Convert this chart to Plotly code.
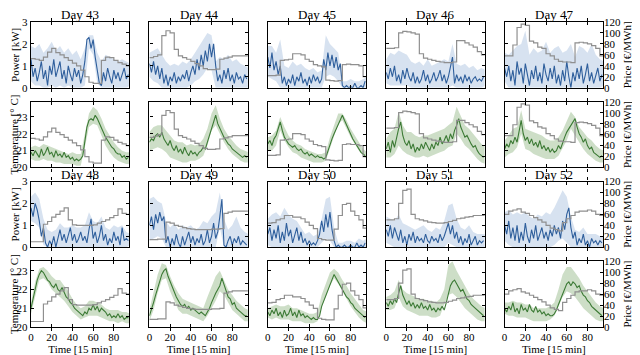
import plotly.graph_objects as go
from plotly.subplots import make_subplots

DAYS_TOP = [43, 44, 45, 46, 47]
DAYS_BOTTOM = [48, 49, 50, 51, 52]
T_MEAN = list(range(0, 96, 2))
T_BAND = list(range(0, 97, 4))
T_PRICE = list(range(0, 97, 4))
X_TICKS = [0, 20, 40, 60, 80]

# ---- Day 43 ----
PRICE_43 = [53, 52, 50, 56, 65, 72, 64, 60, 55, 50, 45, 40, 32, 20, 10, 8, 8, 50, 56, 55, 50, 46, 43, 40]
POW_43 = [1.3, 0.5, 0.9, 0.3, 0.7, 1.2, 0.4, 0.8, 0.1, 1.0, 0.6, 1.3, 0.5, 0.9, 1.2, 0.4, 0.8, 0.2, 1.0, 0.6, 0.3, 0.9, 0.5, 0.8,
          0.2, 0.6, 1.2, 2.2, 2.3, 1.8, 2.2, 1.4, 0.8, 0.2, 0.1, 0.7, 0.3, 0.9, 0.5, 0.2, 0.8, 0.4, 0.7, 0.3, 0.6, 0.9, 0.4, 0.6]
POW_HI_43 = [1.9, 1.8, 2.0, 1.6, 1.8, 2.1, 1.7, 1.9, 1.6, 1.8, 1.5, 1.7, 1.3, 1.8, 2.4, 2.4, 1.6, 1.2, 1.5, 1.4, 1.3, 1.2, 1.3, 1.2, 1.1]
POW_LO_43 = [0.3, 0.1, 0.1, 0, 0, 0.1, 0, 0.1, 0, 0.1, 0, 0, 0, 0.1, 1.8, 1.5, 0.2, 0, 0, 0, 0, 0, 0, 0, 0.1]
TMP_43 = [20.9, 20.7, 21.0, 20.8, 20.6, 21.1, 20.7, 20.9, 21.2, 20.8, 20.9, 20.6, 21.0, 20.7, 20.8, 20.6, 20.9, 20.6, 20.7, 20.5,
          20.6, 20.4, 20.5, 20.4, 20.5, 20.7, 21.6, 22.4, 22.8, 22.9, 22.8, 23.1, 22.9, 22.6, 22.3, 22.0, 21.8, 21.6, 21.4, 21.2,
          21.1, 20.9, 20.8, 20.8, 20.6, 20.7, 20.5, 20.6]
TMP_HI_43 = [21.2, 21.3, 21.2, 21.4, 21.3, 21.2, 21.1, 21.0, 20.9, 20.8, 20.9, 20.8, 20.8, 21.9, 23.2, 23.6, 23.4, 22.9, 22.3, 21.9, 21.5, 21.2, 21.0, 20.9, 20.9]
TMP_LO_43 = [20.5, 20.4, 20.4, 20.5, 20.4, 20.4, 20.3, 20.3, 20.2, 20.2, 20.2, 20.1, 20.1, 21.2, 22.4, 22.6, 22.5, 21.9, 21.3, 20.9, 20.6, 20.4, 20.3, 20.2, 20.2]

# ---- Day 44 ----
PRICE_44 = [55, 57, 60, 95, 104, 100, 70, 58, 55, 52, 48, 44, 40, 35, 33, 33, 34, 52, 54, 56, 58, 58, 58, 58]
POW_44 = [1.1, 0.7, 1.2, 0.6, 1.0, 0.4, 0.9, 0.2, 0.6, 0.1, 0.5, 0.3, 0.7, 0.2, 0.5, 0.3, 0.6, 0.4, 0.8, 0.3, 0.7, 1.0, 0.6, 1.3,
          0.8, 1.5, 1.0, 1.7, 1.2, 2.0, 1.4, 2.0, 1.0, 0.3, 0.6, 0.2, 0.8, 0.4, 0.9, 0.3, 0.6, 0.2, 0.7, 0.4, 0.5, 0.2, 0.6, 0.4]
POW_HI_44 = [1.6, 1.7, 1.8, 1.5, 1.2, 1.0, 1.1, 1.0, 1.2, 1.1, 1.3, 1.6, 1.9, 2.2, 2.5, 2.4, 1.2, 1.4, 1.3, 1.5, 1.2, 1.3, 1.1, 1.0, 0.9]
POW_LO_44 = [0.5, 0.3, 0.2, 0, 0, 0, 0, 0, 0, 0, 0.1, 0.3, 0.4, 0.6, 0.9, 0.8, 0, 0, 0, 0, 0, 0, 0, 0, 0]
TMP_44 = [21.5, 21.7, 21.6, 21.9, 22.0, 21.8, 22.1, 21.7, 21.5, 21.3, 21.6, 21.2, 21.0, 21.3, 20.9, 21.1, 20.8, 21.2, 20.9, 20.7,
          21.0, 20.8, 20.9, 20.7, 20.9, 21.0, 21.2, 21.1, 21.5, 21.9, 22.4, 22.8, 23.1, 22.6, 22.3, 22.0, 21.8, 21.6, 21.4, 21.3,
          21.1, 21.0, 20.9, 20.8, 20.7, 20.6, 20.7, 20.6]
TMP_HI_44 = [22.1, 22.4, 22.5, 22.5, 22.2, 21.9, 21.6, 21.5, 21.5, 21.3, 21.4, 21.3, 21.4, 21.7, 22.3, 23.2, 23.7, 22.9, 22.3, 21.9, 21.6, 21.3, 21.1, 21.0, 20.9]
TMP_LO_44 = [21.0, 21.1, 21.2, 21.1, 20.9, 20.6, 20.5, 20.4, 20.3, 20.3, 20.4, 20.4, 20.5, 20.7, 21.3, 22.2, 22.5, 22.0, 21.5, 21.1, 20.8, 20.6, 20.4, 20.3, 20.3]

# ---- Day 45 ----
PRICE_45 = [22, 22, 23, 50, 51, 52, 62, 62, 60, 52, 48, 42, 40, 38, 14, 13, 12, 13, 42, 43, 42, 42, 40, 20]
POW_45 = [1.4, 0.9, 1.6, 0.8, 1.2, 0.6, 1.0, 0.2, 0.5, 0.1, 0.4, 0.2, 0.6, 0.1, 0.5, 0.3, 0.7, 0.2, 0.4, 0.1, 0.5, 0.2, 0.6, 0.3,
          0.5, 0.2, 0.4, 1.3, 0.8, 1.6, 1.0, 1.5, 0.9, 1.4, 0.8, 1.1, 0.1, 0.0, 0.1, 0.0, 0.05, 0.0, 0.2, 0.0, 0.0, 0.1, 0.0, 0.3]
POW_HI_45 = [1.9, 1.9, 1.6, 2.2, 1.0, 0.9, 1.2, 1.0, 1.1, 0.9, 0.8, 0.9, 0.7, 0.8, 2.4, 2.0, 1.8, 1.6, 0.3, 0.3, 0.4, 0.3, 0.3, 0.4, 0.5]
POW_LO_45 = [0.5, 0.4, 0.3, 0, 0, 0, 0, 0, 0, 0, 0, 0, 0, 0, 0.5, 0.6, 0.5, 0.3, 0, 0, 0, 0, 0, 0, 0]
TMP_45 = [21.4, 21.6, 21.3, 21.7, 21.9, 22.3, 22.7, 22.2, 21.8, 21.6, 21.4, 21.3, 21.2, 21.3, 21.1, 21.0, 21.1, 20.9, 20.8, 20.9,
          20.7, 20.8, 20.7, 20.6, 20.7, 20.6, 20.6, 20.5, 20.6, 21.0, 21.4, 21.7, 22.0, 22.3, 22.6, 22.9, 23.1, 22.8, 22.5, 22.2,
          21.9, 21.7, 21.5, 21.3, 21.1, 20.9, 20.8, 20.7]
TMP_HI_45 = [21.8, 21.9, 22.2, 23.0, 22.4, 21.9, 21.6, 21.4, 21.3, 21.1, 21.0, 20.9, 20.8, 20.8, 20.9, 21.8, 22.5, 23.2, 23.2, 22.8, 22.3, 21.9, 21.5, 21.1, 20.9]
TMP_LO_45 = [21.0, 21.0, 21.3, 22.2, 21.6, 21.2, 20.9, 20.8, 20.6, 20.5, 20.4, 20.3, 20.3, 20.3, 20.4, 21.2, 21.9, 22.6, 22.8, 22.3, 21.8, 21.4, 21.0, 20.7, 20.5]

# ---- Day 46 ----
PRICE_46 = [72, 72, 73, 100, 103, 102, 100, 98, 62, 54, 52, 50, 48, 47, 46, 46, 47, 86, 86, 82, 78, 74, 66, 60]
POW_46 = [0.7, 0.4, 0.9, 0.5, 1.0, 0.3, 0.6, 0.2, 0.8, 0.4, 0.9, 0.5, 0.3, 0.7, 0.2, 0.5, 0.2, 0.4, 0.8, 0.3, 0.6, 0.2, 0.4, 0.7,
          0.3, 0.5, 0.8, 0.3, 0.6, 0.2, 0.5, 0.9, 1.4, 0.2, 0.6, 0.3, 0.5, 0.2, 0.6, 0.3, 0.5, 0.2, 0.4, 0.5, 0.3, 0.4, 0.3, 0.5]
POW_HI_46 = [1.3, 1.6, 1.5, 1.7, 1.6, 1.5, 1.2, 1.1, 1.2, 1.0, 1.3, 1.0, 1.1, 1.2, 1.3, 1.2, 2.0, 1.1, 1.0, 1.1, 0.9, 1.0, 0.8, 0.9, 0.8]
POW_LO_46 = [0.2, 0.1, 0.1, 0.1, 0.1, 0.1, 0, 0, 0, 0, 0, 0, 0, 0, 0, 0, 0.1, 0, 0, 0, 0, 0, 0, 0, 0.1]
TMP_46 = [21.1, 21.5, 20.9, 21.6, 21.2, 21.8, 22.3, 22.7, 21.9, 21.5, 21.3, 21.6, 21.1, 21.4, 20.9, 21.2, 21.0, 21.4, 21.1, 21.5,
          21.2, 21.0, 21.4, 21.1, 21.5, 21.3, 21.8, 21.4, 21.6, 21.9, 21.5, 22.0, 21.7, 22.2, 22.5, 22.9, 22.4, 22.1, 21.8, 21.9,
          21.6, 21.4, 21.2, 21.3, 21.0, 20.8, 20.7, 20.6]
TMP_HI_46 = [21.7, 22.1, 22.3, 23.3, 22.5, 22.1, 22.1, 21.9, 21.8, 21.9, 21.9, 22.0, 22.1, 22.2, 22.3, 22.5, 22.7, 23.6, 23.1, 22.5, 22.3, 22.0, 21.7, 21.4, 21.2]
TMP_LO_46 = [20.6, 20.6, 20.8, 21.3, 21.0, 20.8, 20.7, 20.6, 20.6, 20.7, 20.6, 20.7, 20.8, 20.9, 21.0, 21.2, 21.3, 22.0, 21.7, 21.3, 21.1, 20.8, 20.5, 20.3, 20.2]

# ---- Day 47 ----
PRICE_47 = [58, 58, 78, 110, 116, 114, 85, 82, 74, 72, 62, 58, 52, 48, 47, 47, 46, 82, 83, 82, 80, 77, 72, 58]
POW_47 = [0.9, 0.5, 1.0, 0.3, 0.8, 0.1, 1.2, 0.6, 0.9, 0.2, 1.1, 0.5, 0.1, 0.8, 0.4, 1.0, 0.3, 0.7, 0.2, 1.1, 0.6, 0.3, 0.9, 0.4,
          1.0, 0.2, 0.6, 0.1, 0.8, 0.3, 1.2, 0.5, 0.0, 0.7, 0.3, 0.9, 0.4, 1.0, 0.2, 0.6, 1.1, 0.3, 0.7, 0.2, 0.5, 0.9, 0.3, 0.6]
POW_HI_47 = [1.6, 1.5, 1.7, 1.9, 2.0, 2.6, 1.5, 1.8, 1.6, 1.7, 2.1, 1.6, 1.8, 1.9, 1.6, 1.7, 2.0, 1.4, 1.9, 1.8, 1.6, 2.0, 1.5, 1.3, 1.2]
POW_LO_47 = [0.3, 0, 0, 0, 0, 0, 0, 0, 0, 0, 0, 0, 0, 0, 0, 0, 0, 0, 0, 0, 0, 0, 0, 0, 0.1]
TMP_47 = [21.1, 21.4, 21.2, 21.6, 21.4, 21.8, 21.5, 22.1, 22.8, 22.0, 21.6, 21.8, 21.4, 21.7, 21.3, 21.5, 21.2, 21.6, 21.1, 21.3,
          21.0, 21.2, 20.9, 21.1, 20.9, 21.0, 21.3, 21.1, 21.5, 21.8, 22.1, 22.3, 22.5, 22.7, 22.9, 22.4, 22.0, 21.8, 21.5, 21.7,
          21.3, 21.1, 21.2, 20.9, 20.8, 20.7, 20.6, 20.7]
TMP_HI_47 = [21.6, 21.9, 22.3, 22.4, 23.4, 22.3, 22.2, 22.1, 22.0, 21.9, 21.7, 21.6, 21.6, 21.8, 22.2, 22.8, 23.3, 23.0, 22.4, 22.1, 21.8, 21.6, 21.3, 21.1, 21.0]
TMP_LO_47 = [20.6, 20.8, 20.9, 21.2, 22.0, 21.1, 21.0, 20.8, 20.7, 20.6, 20.5, 20.5, 20.5, 20.7, 21.1, 21.6, 22.3, 21.9, 21.5, 21.1, 20.8, 20.6, 20.4, 20.3, 20.3]

# ---- Day 48 ----
PRICE_48 = [10, 10, 10, 42, 47, 55, 60, 66, 72, 50, 41, 40, 40, 40, 40, 41, 44, 47, 50, 54, 58, 70, 62, 60]
POW_48 = [1.8, 1.4, 2.0, 1.7, 1.2, 0.5, 0.9, 0.2, 0.0, 0.3, 0.1, 0.5, 0.0, 0.4, 0.8, 0.3, 0.6, 0.2, 0.5, 0.9, 0.3, 0.6, 0.2, 0.4,
          0.7, 0.3, 0.5, 0.2, 0.8, 1.3, 0.4, 0.7, 0.2, 0.5, 1.0, 0.3, 0.6, 0.1, 0.4, 0.2, 0.7, 0.3, 0.5, 0.1, 0.9, 0.3, 0.4, 0.3]
POW_HI_48 = [2.3, 2.5, 2.2, 1.3, 0.8, 0.7, 0.8, 1.1, 0.9, 0.9, 1.0, 0.9, 0.9, 1.0, 1.6, 1.2, 1.1, 1.4, 0.9, 0.8, 1.0, 0.9, 1.0, 0.7, 0.6]
POW_LO_48 = [1.2, 1.1, 0.9, 0.1, 0, 0, 0, 0, 0, 0, 0, 0, 0, 0, 0, 0, 0, 0, 0, 0, 0, 0, 0, 0, 0.1]
TMP_48 = [21.0, 21.5, 22.0, 22.5, 22.8, 23.0, 22.9, 22.7, 22.5, 22.4, 22.2, 22.1, 22.3, 22.0, 21.9, 22.1, 21.8, 21.6, 21.5, 21.3,
          21.2, 21.0, 20.9, 20.8, 20.7, 20.6, 20.8, 20.7, 21.0, 20.9, 21.2, 20.9, 21.1, 20.8, 21.0, 20.9, 20.8, 20.6, 20.7, 20.5,
          20.6, 20.5, 20.7, 20.5, 20.6, 20.4, 20.5, 20.5]
TMP_HI_48 = [21.3, 22.4, 23.1, 23.2, 23.0, 22.7, 22.5, 22.5, 22.2, 21.9, 21.5, 21.2, 21.0, 21.1, 21.4, 21.4, 21.3, 21.2, 21.0, 20.9, 20.9, 20.9, 20.8, 20.8, 20.7]
TMP_LO_48 = [20.7, 21.6, 22.5, 22.6, 22.4, 22.0, 21.8, 21.6, 21.4, 21.1, 20.8, 20.6, 20.4, 20.5, 20.6, 20.6, 20.6, 20.5, 20.4, 20.3, 20.3, 20.2, 20.3, 20.2, 20.2]

# ---- Day 49 ----
PRICE_49 = [14, 14, 15, 15, 46, 44, 40, 38, 36, 34, 33, 32, 32, 32, 32, 33, 33, 34, 62, 64, 66, 66, 66, 66]
POW_49 = [1.0, 1.4, 0.8, 1.5, 1.1, 1.6, 1.2, 1.4, 0.2, 0.5, 0.0, 0.4, 0.1, 0.6, 0.2, 0.0, 0.5, 0.1, 0.4, 0.7, 0.2, 0.5, 0.1, 0.4,
          0.2, 0.6, 0.1, 0.3, 0.8, 0.2, 0.5, 1.1, 0.4, 0.7, 1.4, 2.2, 0.1, 0.0, 0.3, 0.5, 0.1, 0.4, 0.2, 0.5, 0.1, 0.3, 0.2, 0.1]
POW_HI_49 = [2.2, 2.3, 2.1, 2.0, 1.2, 0.9, 1.1, 0.8, 1.0, 0.9, 1.0, 0.8, 0.9, 1.2, 1.1, 1.4, 1.6, 2.5, 1.3, 0.8, 1.0, 1.4, 0.9, 0.7, 0.6]
POW_LO_49 = [0.3, 0.4, 0.5, 0.4, 0, 0, 0, 0, 0, 0, 0, 0, 0, 0, 0, 0, 0, 0.9, 0, 0, 0, 0, 0, 0, 0]
TMP_49 = [20.6, 20.9, 21.3, 21.7, 22.1, 22.5, 22.8, 23.0, 23.1, 22.7, 22.4, 22.1, 21.9, 21.6, 21.4, 21.2, 21.1, 21.2, 21.0, 21.1,
          20.9, 21.0, 20.9, 20.8, 20.7, 20.8, 20.7, 20.6, 20.8, 21.0, 21.3, 21.6, 21.8, 22.0, 22.2, 22.6, 22.3, 21.9, 21.6, 21.5,
          21.2, 21.3, 21.0, 20.9, 20.8, 20.7, 20.6, 20.6]
TMP_HI_49 = [20.9, 21.8, 22.8, 23.4, 23.3, 22.7, 22.2, 21.8, 21.5, 21.4, 21.3, 21.2, 21.1, 21.0, 21.6, 22.2, 22.7, 23.0, 22.5, 22.0, 21.7, 21.4, 21.2, 21.0, 20.9]
TMP_LO_49 = [20.3, 20.9, 21.8, 22.5, 22.6, 21.9, 21.4, 20.9, 20.7, 20.7, 20.6, 20.5, 20.4, 20.3, 20.6, 21.0, 21.4, 21.9, 21.7, 21.3, 20.9, 20.7, 20.5, 20.3, 20.3]

# ---- Day 50 ----
PRICE_50 = [44, 45, 50, 52, 58, 58, 55, 55, 52, 46, 40, 34, 16, 14, 13, 13, 33, 58, 78, 80, 66, 58, 50, 35]
POW_50 = [0.6, 0.9, 0.3, 0.8, 0.4, 1.0, 0.2, 0.7, 0.3, 1.1, 0.5, 0.8, 0.2, 0.6, 0.9, 0.3, 0.7, 0.2, 0.4, 0.1, 0.3, 0.1, 0.2, 0.1,
          0.3, 0.6, 1.2, 0.7, 1.5, 0.9, 1.6, 0.8, 0.3, 0.0, 0.1, 0.0, 0.0, 0.1, 0.0, 0.0, 0.1, 0.0, 0.0, 0.2, 0.0, 0.1, 0.0, 0.2]
POW_HI_50 = [1.3, 1.5, 1.6, 1.4, 1.8, 1.5, 1.3, 1.2, 0.9, 0.6, 0.7, 0.5, 0.6, 1.3, 2.2, 2.3, 0.9, 0.2, 0.2, 0.3, 0.3, 0.2, 0.4, 0.3, 0.4]
POW_LO_50 = [0.1, 0, 0, 0, 0, 0, 0, 0, 0, 0, 0, 0, 0, 0.2, 0.4, 0.3, 0, 0, 0, 0, 0, 0, 0, 0, 0]
TMP_50 = [20.8, 20.6, 20.9, 20.7, 21.0, 20.6, 20.8, 20.5, 20.9, 20.6, 20.7, 21.0, 20.6, 20.8, 20.5, 20.9, 20.6, 20.7, 20.5, 20.6,
          20.5, 20.4, 20.5, 20.4, 20.4, 20.6, 21.1, 21.4, 21.6, 21.9, 22.2, 22.5, 22.8, 22.6, 22.4, 22.2, 22.0, 21.8, 21.6, 21.5,
          21.3, 21.2, 21.0, 20.9, 20.8, 20.7, 20.6, 20.5]
TMP_HI_50 = [21.0, 21.1, 21.2, 21.1, 21.1, 21.2, 21.0, 21.0, 20.9, 20.8, 20.7, 20.7, 20.8, 21.7, 22.3, 22.9, 23.1, 22.9, 22.5, 22.2, 21.8, 21.5, 21.2, 20.9, 20.8]
TMP_LO_50 = [20.5, 20.4, 20.5, 20.4, 20.4, 20.4, 20.3, 20.3, 20.3, 20.2, 20.2, 20.2, 20.3, 21.1, 21.6, 22.2, 22.6, 22.3, 21.9, 21.5, 21.1, 20.8, 20.5, 20.3, 20.2]

# ---- Day 51 ----
PRICE_51 = [50, 50, 52, 80, 104, 106, 60, 52, 50, 48, 46, 45, 44, 44, 45, 47, 49, 52, 53, 55, 56, 58, 58, 58]
POW_51 = [0.8, 0.5, 1.0, 0.4, 0.9, 0.6, 0.3, 0.8, 0.2, 0.5, 0.1, 0.6, 0.3, 0.7, 0.2, 0.5, 0.3, 0.4, 0.2, 0.6, 0.3, 0.2, 0.5, 0.3,
          0.4, 0.2, 0.6, 0.3, 0.5, 0.8, 1.1, 0.6, 1.0, 0.4, 0.7, 0.2, 0.5, 0.1, 0.4, 0.2, 0.6, 0.1, 0.3, 0.5, 0.1, 0.3, 0.2, 0.3]
POW_HI_51 = [1.4, 1.3, 1.2, 1.5, 1.1, 1.0, 0.9, 0.8, 0.9, 1.0, 0.8, 0.7, 0.9, 0.8, 1.2, 1.9, 2.0, 1.3, 0.9, 0.8, 1.0, 0.7, 0.6, 0.6, 0.6]
POW_LO_51 = [0.2, 0.1, 0, 0, 0, 0, 0, 0, 0, 0, 0, 0, 0, 0, 0, 0.2, 0.1, 0, 0, 0, 0, 0, 0, 0, 0]
TMP_51 = [21.3, 21.1, 21.4, 21.2, 21.5, 21.3, 21.8, 22.2, 21.7, 21.4, 21.2, 21.4, 21.1, 21.3, 21.0, 21.2, 21.0, 21.3, 21.0, 21.1,
          20.9, 21.2, 20.9, 21.0, 20.8, 21.0, 20.9, 21.1, 20.9, 21.3, 21.8, 22.2, 22.4, 22.5, 22.3, 22.1, 21.9, 22.0, 21.7, 21.5,
          21.4, 21.2, 21.1, 21.0, 20.9, 20.8, 20.7, 20.6]
TMP_HI_51 = [21.6, 21.7, 21.9, 22.5, 22.0, 21.8, 21.7, 21.6, 21.5, 21.5, 21.4, 21.4, 21.3, 21.5, 22.0, 23.3, 23.5, 23.0, 22.6, 22.2, 21.8, 21.5, 21.3, 21.1, 21.0]
TMP_LO_51 = [20.9, 20.9, 21.0, 21.6, 21.1, 20.9, 20.8, 20.7, 20.6, 20.6, 20.6, 20.5, 20.5, 20.6, 21.2, 21.7, 21.8, 21.6, 21.3, 21.0, 20.8, 20.6, 20.4, 20.3, 20.3]

# ---- Day 52 ----
PRICE_52 = [60, 66, 68, 70, 64, 62, 58, 54, 50, 46, 40, 35, 32, 30, 45, 52, 58, 64, 66, 66, 68, 66, 60, 58]
POW_52 = [1.0, 0.6, 1.2, 0.4, 0.9, 0.3, 1.0, 0.2, 0.7, 0.3, 1.1, 0.5, 0.2, 0.8, 0.4, 1.0, 0.3, 0.6, 0.9, 0.4, 0.7, 0.3, 0.8, 0.5,
          1.0, 0.6, 0.9, 0.4, 1.2, 0.8, 1.5, 1.8, 0.9, 0.4, 0.7, 0.1, 0.4, 0.2, 0.6, 0.1, 0.3, 0.0, 0.4, 0.2, 0.3, 0.1, 0.3, 0.2]
POW_HI_52 = [1.6, 1.7, 1.5, 1.6, 1.5, 1.6, 1.4, 1.3, 1.5, 1.4, 1.6, 1.5, 1.8, 2.2, 2.6, 2.3, 1.4, 0.8, 0.7, 0.9, 0.6, 0.6, 0.6, 0.5, 0.5]
POW_LO_52 = [0.3, 0.1, 0, 0, 0, 0, 0, 0, 0, 0, 0, 0, 0.1, 0.3, 0.4, 0.2, 0, 0, 0, 0, 0, 0, 0, 0, 0]
TMP_52 = [21.0, 20.8, 21.1, 20.9, 21.3, 20.8, 21.0, 20.7, 21.2, 20.9, 21.0, 20.8, 21.2, 20.9, 20.8, 21.1, 20.8, 20.9, 20.7, 20.8,
          20.6, 20.7, 20.6, 20.6, 20.7, 20.9, 21.2, 21.5, 21.8, 22.1, 22.3, 22.4, 22.2, 22.4, 22.3, 22.1, 22.2, 21.9, 21.7, 21.6,
          21.4, 21.3, 21.1, 21.0, 20.9, 20.8, 20.7, 20.6]
TMP_HI_52 = [21.3, 21.3, 21.4, 21.3, 21.3, 21.2, 21.2, 21.0, 21.0, 21.0, 21.0, 21.1, 21.3, 22.0, 22.8, 23.2, 23.2, 22.9, 22.6, 22.2, 21.9, 21.6, 21.3, 21.1, 21.0]
TMP_LO_52 = [20.7, 20.6, 20.6, 20.5, 20.5, 20.5, 20.4, 20.3, 20.3, 20.3, 20.3, 20.4, 20.6, 21.1, 21.6, 21.9, 21.8, 21.6, 21.3, 21.0, 20.8, 20.6, 20.4, 20.3, 20.3]

POWER = {43: (POW_43, POW_LO_43, POW_HI_43), 44: (POW_44, POW_LO_44, POW_HI_44), 45: (POW_45, POW_LO_45, POW_HI_45),
         46: (POW_46, POW_LO_46, POW_HI_46), 47: (POW_47, POW_LO_47, POW_HI_47), 48: (POW_48, POW_LO_48, POW_HI_48),
         49: (POW_49, POW_LO_49, POW_HI_49), 50: (POW_50, POW_LO_50, POW_HI_50), 51: (POW_51, POW_LO_51, POW_HI_51),
         52: (POW_52, POW_LO_52, POW_HI_52)}
TEMP = {43: (TMP_43, TMP_LO_43, TMP_HI_43), 44: (TMP_44, TMP_LO_44, TMP_HI_44), 45: (TMP_45, TMP_LO_45, TMP_HI_45),
        46: (TMP_46, TMP_LO_46, TMP_HI_46), 47: (TMP_47, TMP_LO_47, TMP_HI_47), 48: (TMP_48, TMP_LO_48, TMP_HI_48),
        49: (TMP_49, TMP_LO_49, TMP_HI_49), 50: (TMP_50, TMP_LO_50, TMP_HI_50), 51: (TMP_51, TMP_LO_51, TMP_HI_51),
        52: (TMP_52, TMP_LO_52, TMP_HI_52)}
PRICE = {43: PRICE_43, 44: PRICE_44, 45: PRICE_45, 46: PRICE_46, 47: PRICE_47,
         48: PRICE_48, 49: PRICE_49, 50: PRICE_50, 51: PRICE_51, 52: PRICE_52}

FONT = "Liberation Serif, Times New Roman, serif"
BLUE, BLUE_BAND = "#2f5f9c", "rgba(175,198,225,0.5)"
GREEN, GREEN_BAND = "#3c7a35", "rgba(130,172,115,0.4)"
GREY = "#8f8f8f"

fig = make_subplots(rows=4, cols=5, specs=[[{"secondary_y": True}] * 5 for _ in range(4)],
                    horizontal_spacing=0.035, vertical_spacing=0.046)


def add_panel(row, col, mean, lo, hi, line_col, band_col, price):
    fig.add_trace(go.Scatter(x=T_BAND + T_BAND[::-1], y=hi + lo[::-1], fill="toself",
                             fillcolor=band_col, line=dict(width=0), hoverinfo="skip", showlegend=False),
                  row=row, col=col, secondary_y=False)
    fig.add_trace(go.Scatter(x=T_MEAN, y=mean, mode="lines", line=dict(color=line_col, width=1.1),
                             showlegend=False), row=row, col=col, secondary_y=False)
    fig.add_trace(go.Scatter(x=T_PRICE, y=price + [price[-1]], mode="lines", line_shape="hv",
                             line=dict(color=GREY, width=1.2), showlegend=False),
                  row=row, col=col, secondary_y=True)


for block, days in enumerate((DAYS_TOP, DAYS_BOTTOM)):
    for c, d in enumerate(days, start=1):
        m, lo, hi = POWER[d]
        add_panel(2 * block + 1, c, m, lo, hi, BLUE, BLUE_BAND, PRICE[d])
        m, lo, hi = TEMP[d]
        add_panel(2 * block + 2, c, m, lo, hi, GREEN, GREEN_BAND, PRICE[d])
        fig.add_annotation(text=f"Day {d}", x=0.5, y=1.0, xref="x domain", yref="y domain",
                           xanchor="center", yanchor="bottom", showarrow=False, yshift=-2,
                           font=dict(family=FONT, size=13, color="black"), row=2 * block + 1, col=c)

# make_subplots shrinks the width when secondary axes are used; spread the columns over the full width
gap = 0.035
width = (1 - 4 * gap) / 5
for c in range(5):
    fig.update_xaxes(domain=[c * (width + gap), c * (width + gap) + width], col=c + 1)

tick_font = dict(family=FONT, size=11, color="black")
fig.update_xaxes(range=[0, 95], tickvals=X_TICKS, ticks="inside", ticklen=3, tickcolor="black",
                 mirror="allticks", showline=True, linecolor="black", linewidth=1.4, automargin=False,
                 showgrid=False, zeroline=False, showticklabels=False, tickfont=tick_font)
fig.update_xaxes(showticklabels=True, title_text="Time [15 min]", title_font=tick_font,
                 title_standoff=0, row=4)

fig.update_yaxes(ticks="inside", ticklen=3, tickcolor="black", showline=True, mirror=True,
                 linecolor="black", linewidth=1.4, showgrid=False, zeroline=False, automargin=False,
                 showticklabels=False, tickfont=tick_font, secondary_y=False)
for r in (1, 3):
    fig.update_yaxes(range=[0, 3], tickvals=[0, 1, 2, 3], row=r, secondary_y=False)
fig.update_yaxes(range=[20, 23.9], tickvals=[20, 21, 22, 23], row=2, secondary_y=False)
fig.update_yaxes(range=[20, 23.5], tickvals=[20, 21, 22, 23], row=4, secondary_y=False)
for r, name in ((1, "Power [kW]"), (2, "Temperature [° C]"), (3, "Power [kW]"), (4, "Temperature [° C]")):
    fig.update_yaxes(showticklabels=True, title_text=name, title_font=tick_font, title_standoff=0,
                     row=r, col=1, secondary_y=False)

fig.update_yaxes(range=[0, 120], tickvals=[0, 20, 40, 60, 80, 100, 120], ticks="inside", ticklen=3,
                 tickcolor="black", showline=False, showgrid=False, zeroline=False, automargin=False,
                 showticklabels=False, tickfont=tick_font, secondary_y=True)
for r in range(1, 5):
    fig.update_yaxes(showticklabels=True, title_text="Price [€/MWh]", title_font=tick_font,
                     title_standoff=0, row=r, col=5, secondary_y=True)

# the page body adds an 8px offset, so the figure is sized to fit inside the 640x355 window
fig.update_layout(width=632, height=347, margin=dict(l=23, r=37, t=14, b=28),
                  plot_bgcolor="white", paper_bgcolor="white", font=dict(family=FONT, color="black"))
fig.write_html("out.html")
